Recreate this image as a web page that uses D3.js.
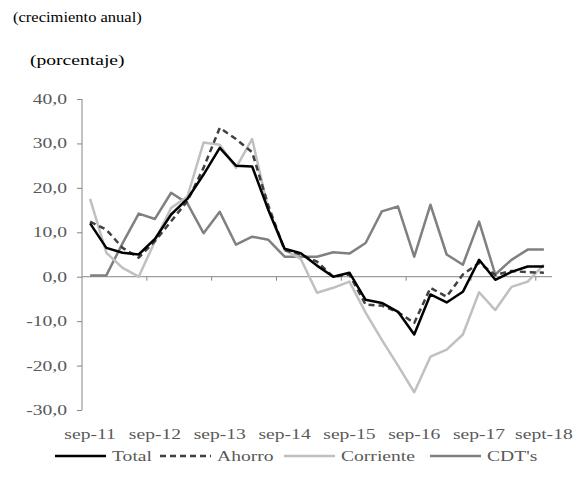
<!DOCTYPE html>
<html>
<head>
<meta charset="utf-8">
<script src="https://cdn.jsdelivr.net/npm/d3@7"></script>
<style>
  body { margin: 0; background: #fff; }
  svg { display: block; }
</style>
</head>
<body>
<svg width="579" height="491"></svg>
<script>
const quarters = ['sep-11', 'dic-11', 'mar-12', 'jun-12', 'sep-12', 'dic-12', 'mar-13', 'jun-13',
  'sep-13', 'dic-13', 'mar-14', 'jun-14', 'sep-14', 'dic-14', 'mar-15', 'jun-15',
  'sep-15', 'dic-15', 'mar-16', 'jun-16', 'sep-16', 'dic-16', 'mar-17', 'jun-17',
  'sep-17', 'dic-17', 'mar-18', 'jun-18', 'sept-18'];

const total = [12.0, 6.5, 5.4, 5.0, 8.5, 14.0, 17.5, 23.0, 29.0, 25.0, 24.8, 15.0, 6.3, 5.3, 2.5, 0.0,
  0.9, -5.2, -5.9, -7.9, -13.0, -4.0, -5.8, -3.4, 3.8, -0.7, 1.1, 2.3, 2.3];
const ahorro = [12.4, 10.6, 6.5, 4.3, 8.0, 12.5, 17.0, 24.5, 33.5, 31.0, 28.0, 16.0, 6.0, 5.0, 3.4, 0.0,
  0.5, -6.3, -6.5, -8.0, -10.4, -2.5, -4.5, 0.5, 3.1, 0.4, 1.3, 1.0, 0.9];
const corriente = [17.5, 5.4, 2.0, 0.0, 8.0, 15.5, 18.0, 30.2, 29.7, 24.5, 31.0, 15.0, 6.0, 4.0, -3.6, -2.5,
  -1.1, -8.1, -14.2, -20.0, -26.0, -18.0, -16.4, -13.0, -3.5, -7.5, -2.3, -1.1, 2.7];
const cdts = [0.3, 0.3, 7.5, 14.2, 13.0, 18.9, 16.5, 9.8, 14.6, 7.2, 9.0, 8.3, 4.5, 4.5, 4.5, 5.5,
  5.2, 7.6, 14.7, 15.8, 4.5, 16.2, 5.0, 2.7, 12.4, 0.5, 3.8, 6.1, 6.1];

const yTicks = [40, 30, 20, 10, 0, -10, -20, -30];
const seriesNames = ['Total', 'Ahorro', 'Corriente', "CDT's"];

// text in the reference is stretched horizontally
const SX = 1.4;

const svg = d3.select('svg');
const plotLeft = 82, plotRight = 552, plotTop = 99, plotBottom = 410;

const x = d3.scaleBand().domain(d3.range(quarters.length)).range([plotLeft, plotRight]).padding(0);
const y = d3.scaleLinear().domain([-30, 40]).range([plotBottom, plotTop]);

const fmt = function (v) { return v.toFixed(1).replace('.', ','); };

function stretchedText(g, tx, ty, str, anchor, fill, sx) {
  return g.append('text')
    .attr('transform', 'translate(' + tx + ',' + ty + ') scale(' + (sx || SX) + ',1)')
    .attr('font-family', 'Liberation Serif')
    .attr('font-size', 14)
    .attr('text-anchor', anchor || 'start')
    .attr('fill', fill || '#595959')
    .text(str);
}

// titles
stretchedText(svg, 13, 22, '(crecimiento anual)', 'start', '#000', 1.18);
stretchedText(svg, 30, 65, '(porcentaje)', 'start', '#000');

// y axis
const yAxis = svg.append('g')
  .attr('transform', 'translate(' + plotLeft + ',0)')
  .call(d3.axisLeft(y).tickValues(yTicks).tickSize(5).tickFormat(fmt));
yAxis.select('.domain').attr('stroke', '#868686').attr('d', 'M0,' + plotTop + 'V' + plotBottom);
yAxis.selectAll('.tick line').attr('stroke', '#868686');
yAxis.selectAll('.tick text').remove();
yTicks.forEach(function (t) {
  stretchedText(svg, 67, y(t) + 5, fmt(t), 'end');
});

// x axis at zero
const xAxis = svg.append('g').attr('class', 'x-axis');
xAxis.append('line')
  .attr('x1', plotLeft).attr('x2', plotRight)
  .attr('y1', y(0)).attr('y2', y(0))
  .attr('stroke', '#868686');
xAxis.selectAll('.xt')
  .data(d3.range(4, quarters.length, 4))
  .enter()
  .append('line')
  .attr('class', 'xt')
  .attr('x1', function (i) { return x(i); })
  .attr('x2', function (i) { return x(i); })
  .attr('y1', y(0))
  .attr('y2', y(0) + 4)
  .attr('stroke', '#868686');

d3.range(0, quarters.length, 4).forEach(function (i) {
  stretchedText(svg, x(i) + x.bandwidth() / 2, 439, quarters[i], 'middle');
});

// lines
const line = d3.line()
  .x(function (d, i) { return x(i) + x.bandwidth() / 2; })
  .y(function (d) { return y(d); });

const styles = [
  { data: cdts, color: '#808080', dash: null, width: 2.5 },
  { data: corriente, color: '#c0c0c0', dash: null, width: 2.5 },
  { data: ahorro, color: '#404040', dash: '6,4', width: 2.5 },
  { data: total, color: '#000000', dash: null, width: 2.5 }
];

svg.append('g')
  .selectAll('path')
  .data(styles)
  .enter()
  .append('path')
  .attr('d', function (s) { return line(s.data); })
  .attr('fill', 'none')
  .attr('stroke', function (s) { return s.color; })
  .attr('stroke-width', function (s) { return s.width; })
  .attr('stroke-dasharray', function (s) { return s.dash; })
  .attr('stroke-linejoin', 'round');

// legend
const legendItems = [
  { name: seriesNames[0], color: '#000000', dash: null, x: 55 },
  { name: seriesNames[1], color: '#404040', dash: '6,4', x: 160 },
  { name: seriesNames[2], color: '#c0c0c0', dash: null, x: 284 },
  { name: seriesNames[3], color: '#808080', dash: null, x: 430 }
];
const legend = svg.append('g').attr('class', 'legend');
legendItems.forEach(function (d) {
  legend.append('line')
    .attr('x1', d.x).attr('x2', d.x + 51)
    .attr('y1', 456).attr('y2', 456)
    .attr('stroke', d.color)
    .attr('stroke-width', 2.5)
    .attr('stroke-dasharray', d.dash);
  stretchedText(legend, d.x + 57, 461, d.name, 'start');
});
</script>
</body>
</html>
